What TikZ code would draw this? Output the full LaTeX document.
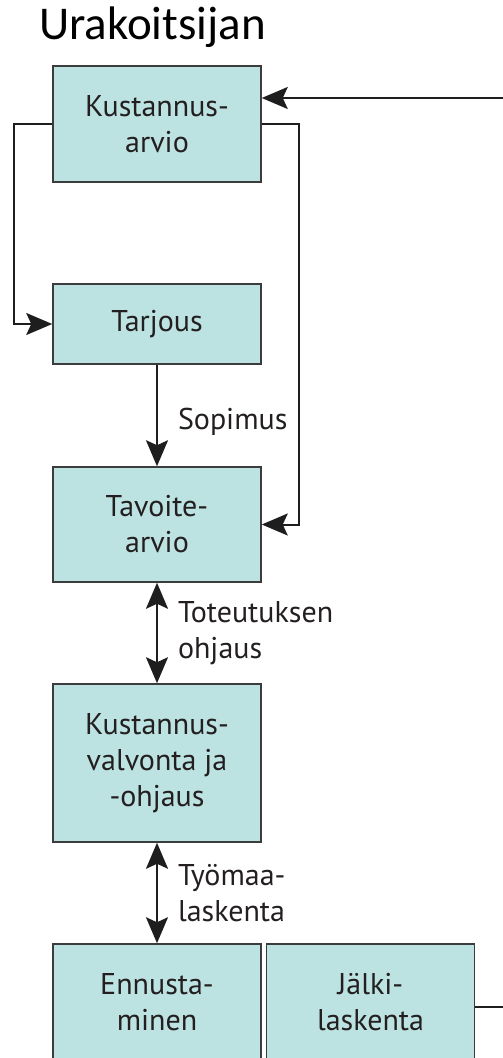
\documentclass[tikz,border=0pt]{standalone}
\usepackage{fontspec}
\setmainfont{PT Sans}
\newfontfamily\titlefont{Carlito}
\usetikzlibrary{arrows.meta}

\definecolor{boxfill}{HTML}{BCE3E1}
\definecolor{boxline}{HTML}{3C3C3C}
\definecolor{arrowline}{HTML}{1E1E1E}
\definecolor{textcol}{HTML}{231F20}

\begin{document}
\begin{tikzpicture}[x=1pt,y=1pt,
  box/.style={draw=boxline, line width=1.5pt, fill=boxfill, minimum width=208pt,
    align=center, text=textcol, font=\fontsize{30}{36}\selectfont},
  conn/.style={draw=arrowline, line width=2pt, -{Stealth[length=26pt,width=22pt,inset=5pt]}},
  twoway/.style={draw=arrowline, line width=2pt,
    {Stealth[length=26pt,width=22pt,inset=5pt]}-{Stealth[length=26pt,width=22pt,inset=5pt]}},
  lbl/.style={anchor=west, inner sep=0pt, xshift=20pt, align=left, text=textcol,
    font=\fontsize{30}{36}\selectfont}]
  \clip (0,0) rectangle (503,-1058);

  \node [anchor=base west, inner sep=0pt, font=\titlefont\fontsize{47}{54}\selectfont] (title) at (39,-39) {Urakoitsijan};

  % boxes
  \node [box, minimum height=116pt] (arvio) at (157,-124) {Kustannus-\\arvio};
  \node [box, minimum height=80pt] (tarjous) at (157,-324) {Tarjous};
  \node [box, minimum height=115pt] (tavoite) at (157,-524.5) {Tavoite-\\arvio};
  \node [box, minimum height=158pt] (valvonta) at (157,-763) {Kustannus-\\valvonta ja\\-ohjaus};
  \node [box, minimum height=116pt] (ennuste) at (157,-1002) {Ennusta-\\minen};
  \node [box, minimum height=116pt] (jalki) at (370.5,-1002) {Jälki-\\laskenta};

  % connectors
  \coordinate (feedin) at (503,-98);
  \coordinate (feedout) at (503,-1007);
  \draw [conn] (feedin) -- (feedin -| arvio.east);
  \draw [conn] (arvio.west) -- ++(-38,0) |- (tarjous.west);
  \draw [conn] (arvio.east) -- ++(37,0) |- (tavoite.east);
  \draw [conn] (tarjous) -- node [lbl, yshift=-6pt] {Sopimus} (tavoite);
  \draw [twoway] (tavoite) -- node [lbl] {Toteutuksen\\ohjaus} (valvonta);
  \draw [twoway] (valvonta) -- node [lbl] {Työmaa-\\laskenta} (ennuste);
  \draw [draw=arrowline, line width=2pt] (jalki.east |- feedout) -- (feedout);
\end{tikzpicture}
\end{document}
